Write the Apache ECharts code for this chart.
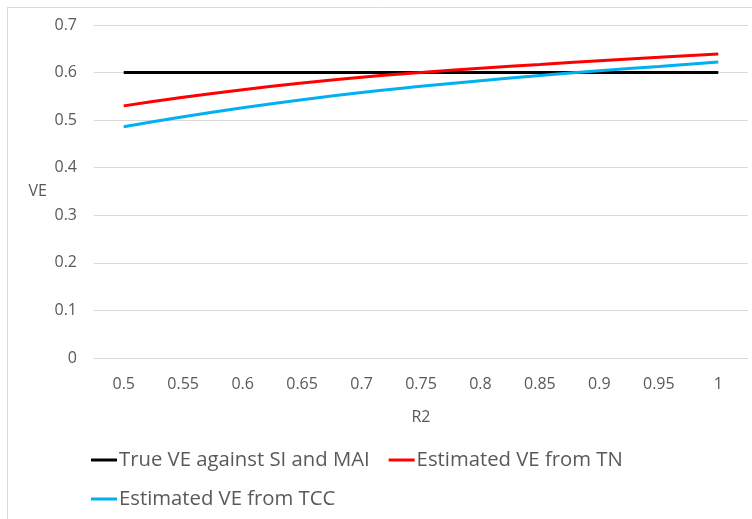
<!DOCTYPE html>
<html><head><meta charset="utf-8">
<script src="https://cdn.jsdelivr.net/npm/echarts@6/dist/echarts.min.js"></script>
<style>html,body{margin:0;padding:0;background:#fff}#c{width:752px;height:519px}</style>
</head><body><div id="c"></div>
<script>
const categories = ['0.5','0.55','0.6','0.65','0.7','0.75','0.8','0.85','0.9','0.95','1'];
const trueVE = [0.6,0.6,0.6,0.6,0.6,0.6,0.6,0.6,0.6,0.6,0.6];
const estTN = [0.530,0.548,0.564,0.578,0.590,0.600,0.609,0.617,0.625,0.632,0.639];
const estTCC = [0.486,0.507,0.526,0.543,0.558,0.571,0.583,0.594,0.604,0.613,0.622];
const seriesNames = ['True VE against SI and MAI','Estimated VE from TN','Estimated VE from TCC'];

const font = '"Open Sans",sans-serif';
const txt = '#595959';
const chart = echarts.init(document.getElementById('c'), null, {renderer:'canvas'});
function line(name, data, color){
  return {name, type:'line', data, symbol:'none', smooth:true, lineStyle:{color, width:3}, itemStyle:{color}};
}
const legendBase = {itemGap:19, itemWidth:26, itemHeight:3, icon:'rect',
  textStyle:{color:txt, fontSize:20.3, fontFamily:font, padding:[0,0,0,-3]}};
chart.setOption({
  animation:false,
  textStyle:{fontFamily:font},
  grid:{left:94, right:4, top:25, bottom:161},
  xAxis:{type:'category', data:categories, boundaryGap:true,
    name:'R2', nameLocation:'middle', nameGap:51,
    nameTextStyle:{color:txt, fontSize:16, fontFamily:font},
    axisLine:{show:false}, axisTick:{show:false},
    axisLabel:{color:txt, fontSize:16, margin:18, fontFamily:font}},
  yAxis:{type:'value', min:0, max:0.7, interval:0.1,
    name:'VE', nameLocation:'middle', nameGap:47, nameRotate:0,
    nameTextStyle:{color:txt, fontSize:16, fontFamily:font},
    axisLine:{show:false}, axisTick:{show:false},
    axisLabel:{color:txt, fontSize:16, margin:17, fontFamily:font, formatter:v=>String(+v.toFixed(1))},
    splitLine:{lineStyle:{color:'#d9d9d9', width:1}}},
  legend:[
    Object.assign({left:86, top:445, data:seriesNames.slice(0,2)}, legendBase),
    Object.assign({left:86, top:484, data:seriesNames.slice(2)}, legendBase)
  ],
  graphic:[
    {type:'line', shape:{x1:7,y1:7.5,x2:752,y2:7.5}, style:{stroke:'#d9d9d9', lineWidth:1}, silent:true},
    {type:'line', shape:{x1:7.5,y1:7,x2:7.5,y2:519}, style:{stroke:'#d9d9d9', lineWidth:1}, silent:true}
  ],
  series:[
    line(seriesNames[0], trueVE, '#000000'),
    line(seriesNames[1], estTN, '#ff0000'),
    line(seriesNames[2], estTCC, '#00b0f0')
  ]
});
</script></body></html>
